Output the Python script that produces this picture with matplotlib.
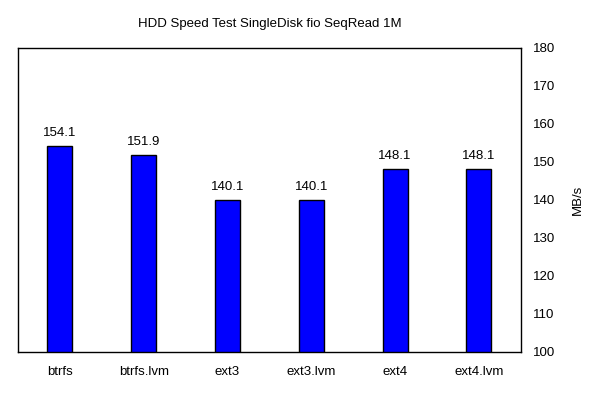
import matplotlib
matplotlib.use("Agg")
import matplotlib.pyplot as plt

categories = ["btrfs", "btrfs.lvm", "ext3", "ext3.lvm", "ext4", "ext4.lvm"]
values = [154.1, 151.9, 140.1, 140.1, 148.1, 148.1]
yticks = [100, 110, 120, 130, 140, 150, 160, 170, 180]

plt.rcParams['font.family'] = ['Liberation Sans', 'DejaVu Sans']
fig = plt.figure(figsize=(6, 4), dpi=100)
ax = fig.add_axes([0.03, 0.12, 0.838, 0.76])
x = list(range(len(categories)))
ax.bar(x, values, width=0.3, color='#0000ff', edgecolor='black', linewidth=1, zorder=2)
for xi, v in zip(x, values):
    ax.annotate(f"{v:.1f}", (xi, v), xytext=(0, 5), textcoords='offset points',
                ha='center', va='bottom', fontsize=9.5)
ax.set_xlim(-0.5, 5.5)
ax.set_ylim(100, 180)
ax.set_xticks(x)
ax.set_xticklabels(categories, fontsize=9.5)
ax.yaxis.tick_right()
ax.yaxis.set_label_position('right')
ax.set_yticks(yticks)
ax.set_yticklabels([str(t) for t in yticks], fontsize=9.5)
ax.tick_params(axis='both', length=0)
ax.tick_params(axis='y', pad=9)
ax.tick_params(axis='x', pad=10)
ax.set_ylabel("MB/s", fontsize=9.5, labelpad=12)
ax.set_title("HDD Speed Test SingleDisk fio SeqRead 1M", fontsize=9.5, pad=15)
for s in ax.spines.values():
    s.set_linewidth(1)
fig.savefig("out.png", dpi=100)
